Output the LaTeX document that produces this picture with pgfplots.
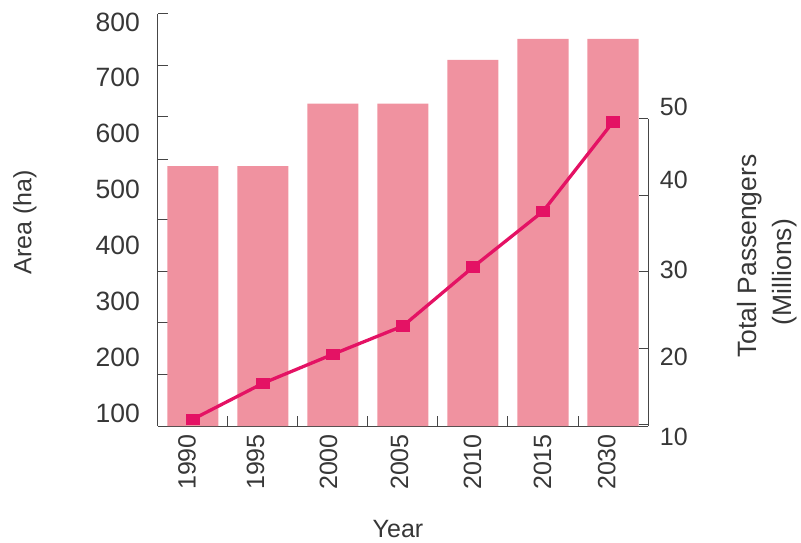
\documentclass[border=0pt]{standalone}
\usepackage{fontspec}
\setmainfont{Liberation Sans}
\usepackage{pgfplots}
\pgfplotsset{compat=1.18}

\definecolor{barpink}{RGB}{240,146,160}
\definecolor{linepink}{RGB}{228,18,100}
\definecolor{txtgray}{RGB}{55,55,55}
\definecolor{axgray}{RGB}{70,70,70}

\pgfplotsset{
  every tick label/.append style={inner sep=0pt, text=txtgray, font=\fontsize{25}{30}\selectfont},
  every axis label/.append style={text=txtgray, font=\fontsize{25}{30}\selectfont},
}

\begin{document}
\begin{tikzpicture}
\useasboundingbox (-158pt,-116pt) rectangle (643pt,426pt);
% area bars, left axis
\begin{axis}[
  at={(0pt,0pt)}, anchor=south west,
  scale only axis, width=490pt, height=412.5pt,
  xmin=-0.5, xmax=6.5, ymin=0, ymax=800,
  axis x line*=bottom, axis y line*=left,
  axis line style={axgray, line width=1pt},
  tick style={axgray, line width=1pt},
  tick align=inside, major tick length=10pt,
  xtick={0.5,1.5,...,6.5}, xticklabels={},
  extra x ticks={-0.086,0.893,1.936,2.95,3.993,4.993,5.91},
  extra x tick labels={1990,1995,2000,2005,2010,2015,2030},
  extra x tick style={major tick length=0pt, xticklabel style={rotate=90, anchor=east}},
  xticklabel shift=8pt,
  ytick={100,200,300,400,517,600,700,800}, yticklabels={},
  extra y ticks={25,134,241,351,458,568,677,783.5},
  extra y tick labels={100,200,300,400,500,600,700,800},
  extra y tick style={major tick length=0pt, yticklabel style={font=\fontsize{26.5}{30}\selectfont}},
  yticklabel shift=18pt,
  xlabel={Year}, ylabel={Area (ha)},
  every axis x label/.style={at={(axis description cs:0.4898,-0.2497)}, anchor=center},
  every axis y label/.style={at={(axis description cs:-0.2714,0.4945)}, rotate=90, anchor=center},
  clip=false,
]
\addplot[ybar, bar width=51pt, fill=barpink, draw=none] coordinates {
  (0,504) (1,504) (2,625) (3,625) (4,710) (5,751) (6,751)
};
\end{axis}
% passengers line, right axis
\begin{axis}[
  at={(0pt,412.5pt)}, anchor=north west,
  scale only axis, width=490pt, height=449.2pt,
  xmin=-0.5, xmax=6.5, ymin=5, ymax=63.8,
  hide x axis,
  axis y line*=right,
  axis line style={draw=none},
  tick style={axgray, line width=1pt},
  tick align=inside, major tick length=9pt,
  ytick={10,20,30,40,50}, yticklabels={},
  extra y ticks={8.4,18.9,30.2,42,51.6},
  extra y tick labels={10,20,30,40,50},
  extra y tick style={major tick length=0pt},
  yticklabel shift=11.7pt,
  ylabel={Total Passengers\\(Millions)\hspace*{32pt}},
  every axis y label/.style={at={(axis description cs:1.2439,0.46)}, rotate=90, anchor=center,
    align=center, font=\fontsize{26.5}{35}\selectfont},
  clip=false,
]
\draw[axgray, line width=1pt] (axis cs:6.5,9.8) -- (axis cs:6.5,50);
\addplot[linepink, line width=3.3pt, mark=square*, mark size=4pt, mark options={xscale=1.45}]
  coordinates {
  (0,10.7) (1,15.4) (2,19.2) (3,22.9) (4,30.6) (5,37.9) (6,49.6)
};
\end{axis}
\end{tikzpicture}
\end{document}
